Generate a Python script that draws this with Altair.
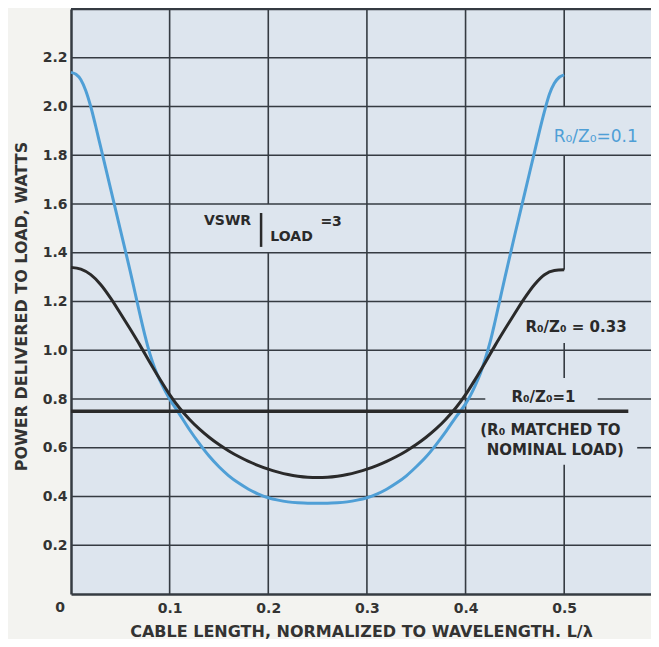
import altair as alt
import pandas as pd

# ---- data ----
blue_x = [0, 0.005, 0.01, 0.015, 0.02, 0.025, 0.03, 0.04, 0.05, 0.06, 0.065, 0.07, 0.075,
          0.08, 0.085, 0.09, 0.095, 0.10, 0.11, 0.12, 0.13, 0.14, 0.15, 0.16, 0.17, 0.18,
          0.19, 0.20, 0.21, 0.22, 0.23, 0.24, 0.25, 0.26, 0.27, 0.28, 0.29, 0.30, 0.31,
          0.32, 0.33, 0.34, 0.35, 0.36, 0.37, 0.38, 0.39, 0.40, 0.405, 0.41, 0.415, 0.42,
          0.425, 0.43, 0.435, 0.44, 0.45, 0.46, 0.47, 0.475, 0.48, 0.485, 0.49, 0.495, 0.50]
blue_y = [2.14, 2.132, 2.11, 2.065, 2.0, 1.92, 1.835, 1.665, 1.495, 1.325, 1.235, 1.145, 1.06,
          0.985, 0.925, 0.877, 0.837, 0.80, 0.738, 0.675, 0.618, 0.566, 0.522, 0.485, 0.455, 0.43,
          0.41, 0.395, 0.385, 0.378, 0.374, 0.372, 0.372, 0.372, 0.374, 0.378, 0.385, 0.395, 0.41,
          0.43, 0.455, 0.485, 0.522, 0.563, 0.612, 0.666, 0.725, 0.78, 0.815, 0.857, 0.905, 0.965,
          1.035, 1.12, 1.21, 1.30, 1.475, 1.645, 1.815, 1.90, 1.98, 2.05, 2.095, 2.12, 2.13]

black_x = [0, 0.01, 0.02, 0.03, 0.04, 0.05, 0.06, 0.07, 0.08, 0.09, 0.10, 0.11, 0.12,
           0.13, 0.14, 0.15, 0.16, 0.17, 0.18, 0.19, 0.20, 0.21, 0.22, 0.23, 0.24, 0.25,
           0.26, 0.27, 0.28, 0.29, 0.30, 0.31, 0.32, 0.33, 0.34, 0.35, 0.36, 0.37, 0.38,
           0.39, 0.40, 0.41, 0.42, 0.43, 0.44, 0.45, 0.46, 0.47, 0.48, 0.49, 0.50]
black_y = [1.34, 1.333, 1.31, 1.27, 1.215, 1.152, 1.087, 1.02, 0.95, 0.882, 0.818, 0.763, 0.717,
           0.677, 0.643, 0.613, 0.587, 0.564, 0.544, 0.527, 0.512, 0.50, 0.49, 0.483, 0.479, 0.478,
           0.479, 0.483, 0.49, 0.50, 0.512, 0.527, 0.544, 0.564, 0.587, 0.613, 0.643, 0.677, 0.717,
           0.763, 0.818, 0.882, 0.95, 1.02, 1.087, 1.152, 1.215, 1.27, 1.31, 1.327, 1.33]

matched_x = [0.0, 0.565]
matched_y = [0.75, 0.75]

x_ticks = [0.1, 0.2, 0.3, 0.4, 0.5]
y_ticks = [0.2, 0.4, 0.6, 0.8, 1.0, 1.2, 1.4, 1.6, 1.8, 2.0, 2.2]

X_MAX = 0.588
Y_MAX = 2.4

# grid segments; some are broken where the annotations sit
h_full = [0.2, 0.4, 1.0, 1.2, 1.4, 1.6, 1.8, 2.0, 2.2]
h_parts = [(0, 0.4, 0.6), (0.574, X_MAX, 0.6), (0, 0.42, 0.8), (0.534, X_MAX, 0.8)]
v_full = [0.1, 0.3, 0.4]
v_parts = [(0.2, 0, 1.4), (0.2, 1.6, Y_MAX), (0.5, 0, 0.53), (0.5, 0.886, 1.03),
           (0.5, 1.33, 1.8), (0.5, 2.0, Y_MAX)]

GRID = "#353b42"
INK = "#2a2a2a"
BLUE = "#4f9fd6"
FONT = "DejaVu Sans"

segs = []
for y in h_full:
    segs.append({"x1": 0, "x2": X_MAX, "y1": y, "y2": y})
for a, b, y in h_parts:
    segs.append({"x1": a, "x2": b, "y1": y, "y2": y})
for x in v_full:
    segs.append({"x1": x, "x2": x, "y1": 0, "y2": Y_MAX})
for x, a, b in v_parts:
    segs.append({"x1": x, "x2": x, "y1": a, "y2": b})
grid_df = pd.DataFrame(segs)

xs = alt.Scale(domain=[0, X_MAX], nice=False, zero=False)
ys = alt.Scale(domain=[0, Y_MAX], nice=False, zero=False)

x_axis = alt.Axis(values=x_ticks, format=".1f", grid=False, ticks=False, domain=True,
                  domainWidth=2.5, domainColor=GRID, labelPadding=7,
                  title="CABLE LENGTH, NORMALIZED TO WAVELENGTH. L/λ",
                  titleY=42, titleBaseline="alphabetic")
y_axis = alt.Axis(values=y_ticks, format=".1f", grid=False, ticks=False, domain=True,
                  domainWidth=2.5, domainColor=GRID, labelPadding=4,
                  title="POWER DELIVERED TO LOAD, WATTS", titleX=-45, titleY=297,
                  titleAlign="center", titleBaseline="alphabetic")

grid = alt.Chart(grid_df).mark_rule(color=GRID, strokeWidth=1.6).encode(
    x=alt.X("x1:Q", scale=xs, axis=x_axis), x2="x2:Q",
    y=alt.Y("y1:Q", scale=ys, axis=y_axis), y2="y2:Q")

top_border = alt.Chart(pd.DataFrame({"y": [Y_MAX]})).mark_rule(
    color=GRID, strokeWidth=2.5).encode(x=alt.value(0), x2=alt.value(580), y=alt.Y("y:Q", scale=ys))

blue = alt.Chart(pd.DataFrame({"x": blue_x, "y": blue_y})).mark_line(
    color=BLUE, strokeWidth=3, interpolate="monotone").encode(
    x=alt.X("x:Q", scale=xs), y=alt.Y("y:Q", scale=ys))
black = alt.Chart(pd.DataFrame({"x": black_x, "y": black_y})).mark_line(
    color=INK, strokeWidth=3, interpolate="monotone").encode(
    x=alt.X("x:Q", scale=xs), y=alt.Y("y:Q", scale=ys))
matched = alt.Chart(pd.DataFrame({"x": matched_x, "y": matched_y})).mark_line(
    color=INK, strokeWidth=3.5).encode(
    x=alt.X("x:Q", scale=xs), y=alt.Y("y:Q", scale=ys))

def label(text, x, y, color=INK, size=15, weight="bold", align="center"):
    return alt.Chart(pd.DataFrame({"x": [x], "y": [y], "t": [text]})).mark_text(
        color=color, font=FONT, fontSize=size, fontWeight=weight, align=align,
        baseline="middle").encode(x=alt.X("x:Q", scale=xs), y=alt.Y("y:Q", scale=ys), text="t:N")

labels = [
    label("R₀/Z₀=0.1", 0.532, 1.875, color=BLUE, size=17, weight="normal"),
    label("R₀/Z₀ = 0.33", 0.512, 1.095),
    label("R₀/Z₀=1", 0.479, 0.81),
    label("(R₀ MATCHED TO", 0.486, 0.672),
    label("NOMINAL LOAD)", 0.491, 0.59),
    label("VSWR", 0.1587, 1.53, size=14),
    label("LOAD", 0.2236, 1.465, size=14),
    label("=3", 0.2637, 1.526, size=14),
]

bar = alt.Chart(pd.DataFrame({"x": [0.1927], "y1": [1.424], "y2": [1.563]})).mark_rule(
    color=INK, strokeWidth=2.5).encode(x=alt.X("x:Q", scale=xs), y=alt.Y("y1:Q", scale=ys), y2="y2:Q")

zero = alt.Chart(pd.DataFrame({"x": [0], "y": [0], "t": ["0"]})).mark_text(
    color="#333333", font=FONT, fontSize=14, fontWeight="bold", dx=-11, dy=14).encode(
    x=alt.X("x:Q", scale=xs), y=alt.Y("y:Q", scale=ys), text="t:N")

chart = alt.layer(grid, top_border, blue, black, matched, bar, zero, *labels).properties(
    width=580, height=585,
    padding={"left": 63, "top": 1, "right": 0, "bottom": 45},
    autosize="none",
    background="#f3f3f0",
).configure_view(fill="#dde5ee", stroke=None).configure_axis(
    labelFont=FONT, labelFontSize=14, labelFontWeight="bold", labelColor="#333333",
    titleFont=FONT, titleFontSize=16, titleFontWeight="bold", titleColor="#333333")

chart.save("out.html", embed_options={"renderer": "svg", "actions": False})
